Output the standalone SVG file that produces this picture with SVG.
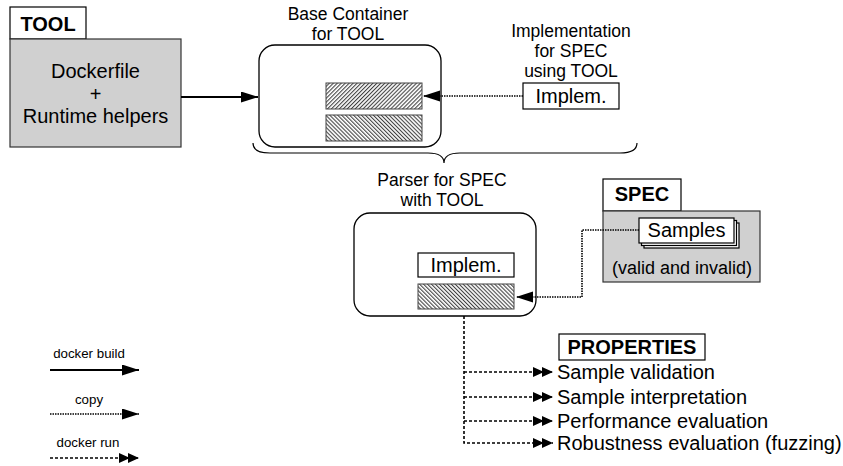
<svg xmlns="http://www.w3.org/2000/svg" width="843" height="466" viewBox="0 0 843 466">
<style>
text{font-family:"Liberation Sans",Arial,sans-serif;fill:#000}
.c{text-anchor:middle}
.t20{font-size:20px}
.t18{font-size:18px}
.t17{font-size:17.5px}
.b{font-weight:bold;font-size:20px}
.lg{font-size:13.3px}
.box{fill:#fff;stroke:#000;stroke-width:1.2}
.gray{fill:#d0d0d0;stroke:#333;stroke-width:1.2}
.cont{fill:#fff;stroke:#000;stroke-width:1.3}
.hf{fill:url(#hatchF);stroke:#444;stroke-width:1}
.hb{fill:url(#hatchB);stroke:#444;stroke-width:1}
.solid{stroke:#000;stroke-width:1.8;fill:none}
.dot{stroke:#000;stroke-width:1.6;fill:none;stroke-dasharray:1.5 1}
.dash{stroke:#000;stroke-width:1.6;fill:none;stroke-dasharray:3 2}
</style>
<defs>
<pattern id="hatchF" patternUnits="userSpaceOnUse" width="2.8" height="4" patternTransform="rotate(45)">
<rect width="2.8" height="4" fill="#fff"/>
<line x1="0.6" y1="0" x2="0.6" y2="4" stroke="#111" stroke-width="0.9"/>
</pattern>
<pattern id="hatchB" patternUnits="userSpaceOnUse" width="2.8" height="4" patternTransform="rotate(-45)">
<rect width="2.8" height="4" fill="#fff"/>
<line x1="0.6" y1="0" x2="0.6" y2="4" stroke="#111" stroke-width="0.9"/>
</pattern>
<marker id="arr" markerUnits="userSpaceOnUse" markerWidth="18" markerHeight="12" refX="17" refY="5.5" orient="auto">
<path d="M0,0 L17,5.5 L0,11 Z" fill="#000"/>
</marker>
<marker id="dbl" markerUnits="userSpaceOnUse" markerWidth="21" markerHeight="11" refX="20" refY="5" orient="auto">
<path d="M0,0 L11,5 L0,10 Z M9,0 L20,5 L9,10 Z" fill="#000"/>
</marker>
</defs>

<g id="tool">
<rect class="box" x="10" y="7" width="76" height="32"/>
<text class="b c" x="48" y="31">TOOL</text>
<rect class="gray" x="10" y="39" width="171" height="108"/>
<text class="t20 c" x="95.5" y="78">Dockerfile</text>
<text class="t20 c" x="95.5" y="101">+</text>
<text class="t20 c" x="95.5" y="123">Runtime helpers</text>
</g>

<g id="base-container">
<text class="t17 c" x="348" y="20">Base Container</text>
<text class="t17 c" x="348" y="40">for TOOL</text>
<rect class="cont" x="259" y="45" width="182" height="102" rx="16"/>
<rect class="hf" x="326" y="83" width="96" height="26"/>
<rect class="hb" x="326" y="115" width="96" height="26"/>
</g>

<g id="implementation">
<text class="t17 c" x="571" y="37">Implementation</text>
<text class="t17 c" x="571" y="57">for SPEC</text>
<text class="t17 c" x="571" y="77">using TOOL</text>
<rect class="box" x="523" y="83" width="96" height="26"/>
<text class="t20 c" x="571" y="103">Implem.</text>
</g>

<g id="brace">
<path d="M253,143 Q253,153 270,153 L428,153 Q444,153 444,163 Q444,153 460,153 L620,153 Q637,153 637,143" fill="none" stroke="#000" stroke-width="1.2"/>
</g>

<g id="parser">
<text class="t17 c" x="442" y="186">Parser for SPEC</text>
<text class="t17 c" x="442" y="206">with TOOL</text>
<rect class="cont" x="354" y="213" width="182" height="103" rx="16"/>
<rect class="box" x="418" y="253" width="96" height="24"/>
<text class="t20 c" x="466" y="272">Implem.</text>
<rect class="hb" x="418" y="284" width="96" height="25"/>
</g>

<g id="spec">
<rect class="box" x="603" y="179" width="78" height="32"/>
<text class="b c" x="642" y="201">SPEC</text>
<rect class="gray" x="603" y="211" width="157" height="71"/>
<rect class="box" x="644" y="223" width="95" height="25"/>
<rect class="box" x="641.5" y="220.5" width="95" height="25"/>
<rect class="box" x="639" y="218" width="95" height="25"/>
<text class="t20 c" x="686.5" y="237">Samples</text>
<text class="t18 c" x="682" y="274">(valid and invalid)</text>
</g>

<g id="properties">
<rect class="box" x="559" y="334" width="146" height="26"/>
<text class="b c" x="632" y="354">PROPERTIES</text>
<text class="t20" x="557" y="379">Sample validation</text>
<text class="t20" x="557" y="404">Sample interpretation</text>
<text class="t20" x="557" y="428">Performance evaluation</text>
<text class="t20" x="557" y="450">Robustness evaluation (fuzzing)</text>
</g>

<g id="legend">
<text class="lg c" x="89" y="358">docker build</text>
<text class="lg c" x="89" y="404">copy</text>
<text class="lg c" x="88" y="447">docker run</text>
</g>

<g id="connectors">
<line class="solid" x1="181" y1="97" x2="258" y2="97" marker-end="url(#arr)"/>
<line class="dot" x1="523" y1="96" x2="423" y2="96" marker-end="url(#arr)"/>
<path class="dot" d="M639,230 H582 V297 H516" marker-end="url(#arr)"/>
<path class="dash" d="M464,316 V443 H553" marker-end="url(#dbl)"/>
<line class="dash" x1="464" y1="372" x2="553" y2="372" marker-end="url(#dbl)"/>
<line class="dash" x1="464" y1="397" x2="553" y2="397" marker-end="url(#dbl)"/>
<line class="dash" x1="464" y1="421" x2="553" y2="421" marker-end="url(#dbl)"/>
<line class="solid" x1="50" y1="370" x2="139" y2="370" marker-end="url(#arr)"/>
<line class="dot" x1="50" y1="414" x2="139" y2="414" marker-end="url(#arr)"/>
<line class="dash" x1="50" y1="458" x2="139" y2="458" marker-end="url(#dbl)"/>
</g>
</svg>
